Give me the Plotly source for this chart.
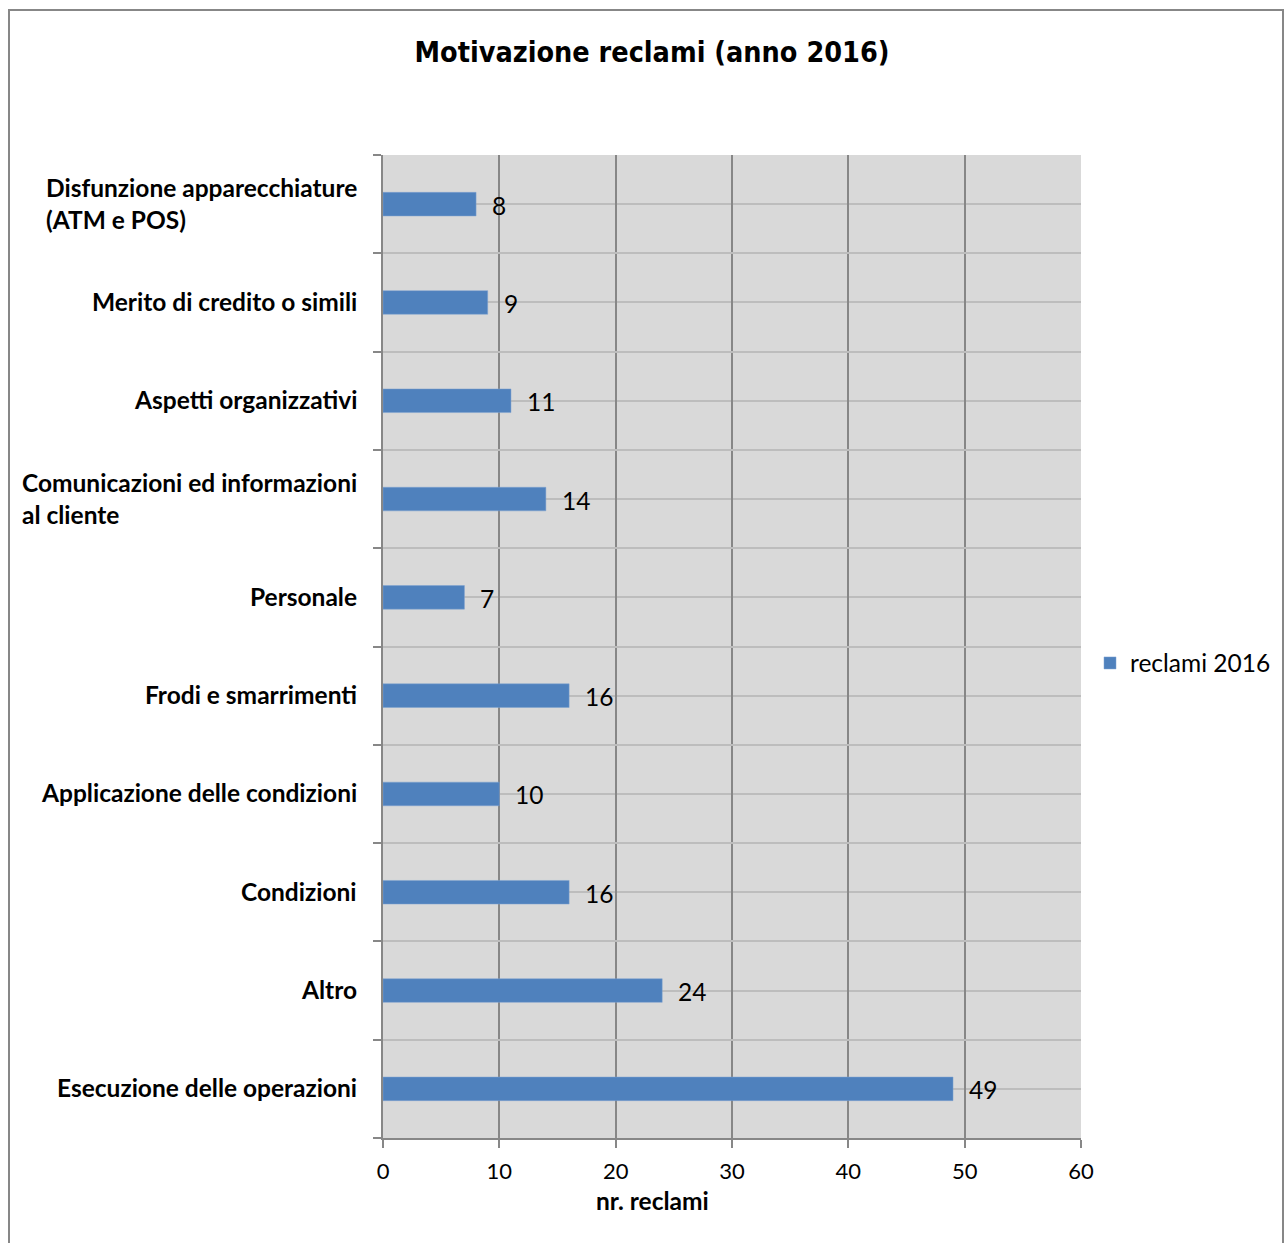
import plotly.graph_objects as go

categories = [
    "Disfunzione apparecchiature<br>(ATM e POS)",
    "Merito di credito o simili",
    "Aspetti organizzativi",
    "Comunicazioni ed informazioni<br>al cliente",
    "Personale",
    "Frodi e smarrimenti",
    "Applicazione delle condizioni",
    "Condizioni",
    "Altro",
    "Esecuzione delle operazioni",
]
values = [8, 9, 11, 14, 7, 16, 10, 16, 24, 49]
series_name = "reclami 2016"
title_text = "Motivazione reclami (anno 2016)"
x_title = "nr. reclami"
x_ticks = [0, 10, 20, 30, 40, 50, 60]

W, H = 1284, 1243
L, R, T, B = 383, 1081, 155, 1138
pw, ph = R - L, B - T

BAR = "#4F81BD"
FONT = "Lato"
FS = 24.5
positions = list(range(len(categories)))

fig = go.Figure()
fig.add_trace(go.Bar(
    x=values, y=positions, orientation="h", width=0.24,
    marker=dict(color=BAR, line=dict(color="#7FA3D1", width=0.5)),
    name=series_name, showlegend=True,
))

annotations = []
for p, v in zip(positions, values):
    annotations.append(dict(x=v, y=p, xref="x", yref="y", text=str(v),
                            showarrow=False, xanchor="left", yanchor="middle",
                            xshift=14, yshift=-1,
                            font=dict(family=FONT, size=FS, color="black")))
for p, c in zip(positions, categories):
    annotations.append(dict(x=0, y=p, xref="paper", yref="y", text=c,
                            showarrow=False, xanchor="right", yanchor="middle", align="left",
                            xshift=-24, yshift=1,
                            font=dict(family=FONT, size=FS, color="black", weight="bold")))
annotations.append(dict(x=(652 - L) / pw, y=-(1200 - B) / ph, xref="paper", yref="paper",
                        text=x_title, showarrow=False, xanchor="center", yanchor="middle",
                        font=dict(family=FONT, size=FS, color="black", weight="bold")))

fig.update_layout(
    width=W, height=H,
    margin=dict(l=L, r=W - R, t=T, b=H - B, pad=0, autoexpand=False),
    paper_bgcolor="white", plot_bgcolor="#D9D9D9",
    title=dict(text=title_text, x=652 / W, xanchor="center", y=1 - 52 / H, yanchor="middle",
               xref="container", yref="container",
               font=dict(family="DejaVu Sans Condensed", size=28.5, color="black", weight="bold")),
    xaxis=dict(range=[0, 60], tickvals=x_ticks, ticktext=[str(t) for t in x_ticks],
               showgrid=True, gridcolor="#878787", gridwidth=2,
               showline=True, linecolor="#878787", linewidth=2,
               ticks="outside", ticklen=8, tickwidth=2, tickcolor="#878787",
               ticklabelstandoff=5,
               tickfont=dict(family=FONT, size=22, color="black"), zeroline=False,
               fixedrange=True),
    yaxis=dict(range=[len(categories) - 0.5, -0.5], tick0=-0.5, dtick=1,
               showticklabels=False, showgrid=True, gridcolor="#BDBDBD", gridwidth=2,
               showline=True, linecolor="#878787", linewidth=2,
               ticks="outside", ticklen=8, tickwidth=2, tickcolor="#878787",
               zeroline=False,
               minor=dict(tick0=0, dtick=1, showgrid=True, gridcolor="#BDBDBD", gridwidth=2, ticks=""),
               fixedrange=True),
    legend=dict(x=(1090 - L) / pw, y=(B - 663) / ph, xanchor="left", yanchor="middle",
                font=dict(family=FONT, size=FS, color="black"), bgcolor="rgba(0,0,0,0)",
                itemwidth=30),
    annotations=annotations,
    showlegend=True,
    shapes=[dict(type="rect", xref="paper", yref="paper",
                 x0=(9 - L) / pw, x1=(1283 - L) / pw, y0=-(1300 - B) / ph, y1=1 + (T - 10) / ph,
                 line=dict(color="#878787", width=2), fillcolor="rgba(0,0,0,0)", layer="below")],
)

fig.write_html("out.html")
